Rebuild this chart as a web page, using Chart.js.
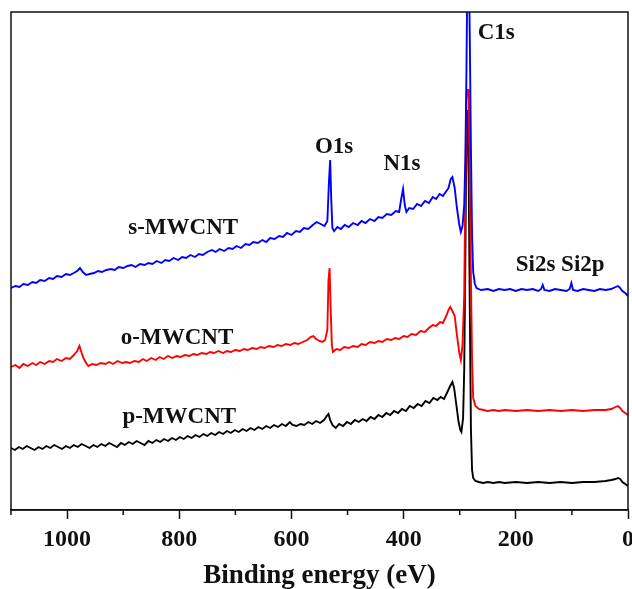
<!DOCTYPE html>
<html>
<head>
<meta charset="utf-8">
<title>XPS survey spectra</title>
<script src="https://cdn.jsdelivr.net/npm/chart.js@4.4.1/dist/chart.umd.min.js"></script>
<style>
    html, body { margin: 0; padding: 0; background: #fff; }
    #wrap { width: 632px; height: 589px; }
</style>
</head>
<body>
<div id="wrap"><canvas id="xpsChart" width="632" height="589"></canvas></div>
<script>
// Binding energy (eV) and intensity (a.u., offset for stacking)
const sEnergy = [1100, 1092, 1085, 1078, 1070, 1062, 1055, 1048, 1040, 1032, 1025, 1018, 1010, 1002, 995, 988, 982, 977, 972, 966,
    960, 952, 945, 938, 930, 922, 915, 908, 900, 892, 885, 878, 870, 862, 855, 848, 840, 832, 825, 818,
    810, 802, 795, 788, 780, 772, 765, 758, 750, 742, 735, 728, 720, 712, 705, 698, 690, 682, 675, 668,
    660, 652, 645, 638, 630, 622, 615, 608, 600, 592, 585, 578, 570, 562, 555, 548, 541, 536, 533, 531,
    529, 527, 524, 518, 512, 505, 498, 490, 482, 475, 468, 460, 452, 445, 438, 430, 422, 414, 408, 404,
    401, 398, 395, 390, 383, 376, 369, 362, 355, 348, 342, 336, 330, 325, 320, 316, 313, 309, 305, 301,
    298, 295, 292, 290, 288, 286, 284, 282, 280, 278, 276, 273, 270, 262, 250, 240, 230, 220, 210, 200,
    190, 180, 170, 160, 155, 152, 149, 140, 130, 120, 110, 104, 101, 98, 90, 80, 70, 60, 50, 40,
    30, 22, 18, 14, 10, 5, 0];
const sIntensity = [222, 224, 223, 226, 225, 228, 227, 230, 229, 232, 231, 234, 233, 236, 235, 237, 239, 242, 238, 235,
    236, 237, 239, 238, 240, 241, 240, 243, 242, 244, 245, 243, 246, 245, 247, 246, 249, 247, 250, 249,
    252, 250, 253, 252, 255, 253, 256, 255, 258, 260, 258, 261, 259, 262, 261, 264, 262, 266, 265, 268,
    267, 270, 268, 272, 271, 274, 273, 277, 275, 279, 278, 282, 281, 285, 288, 286, 284, 289, 330, 350,
    310, 282, 279, 283, 281, 285, 283, 287, 285, 289, 287, 291, 289, 293, 292, 296, 295, 299, 298, 312,
    321, 305, 298, 302, 301, 306, 304, 309, 307, 313, 311, 316, 314, 318, 322, 331, 333, 322, 302, 286,
    278, 284, 305, 350, 440, 560, 560, 470, 360, 275, 238, 226, 222, 220, 221, 219, 221, 220, 221, 219,
    221, 220, 221, 219, 221, 225, 220, 219, 221, 220, 219, 221, 227, 220, 219, 221, 220, 219, 221, 220,
    221, 223, 224, 222, 219, 217, 214];

const oEnergy = [1100, 1092, 1085, 1078, 1070, 1062, 1055, 1048, 1040, 1032, 1025, 1018, 1010, 1002, 995, 988, 982, 978, 974, 970,
    966, 962, 955, 948, 940, 932, 925, 918, 910, 902, 895, 888, 880, 872, 865, 858, 850, 842, 835, 828,
    820, 812, 805, 798, 790, 782, 775, 768, 760, 752, 745, 738, 730, 722, 715, 708, 700, 692, 685, 678,
    670, 662, 655, 648, 640, 632, 625, 618, 610, 602, 595, 588, 580, 572, 566, 561, 556, 550, 545, 540,
    536, 534, 532, 530, 528, 526, 520, 513, 506, 498, 490, 482, 475, 468, 460, 452, 445, 438, 430, 422,
    415, 408, 400, 393, 386, 378, 370, 362, 355, 348, 342, 335, 330, 324, 320, 317, 313, 309, 305, 301,
    298, 295, 292, 290, 288, 286, 284, 282, 280, 278, 276, 272, 266, 258, 250, 240, 230, 220, 200, 180,
    160, 140, 120, 100, 80, 60, 40, 30, 22, 18, 14, 10, 5, 0];
const oIntensity = [143, 145, 142, 146, 144, 147, 145, 148, 146, 149, 148, 151, 149, 152, 151, 155, 159, 164, 157, 151,
    147, 144, 146, 145, 147, 146, 148, 146, 149, 147, 148, 147, 149, 148, 151, 149, 152, 150, 153, 151,
    154, 152, 154, 153, 155, 154, 156, 155, 157, 156, 158, 157, 159, 157, 159, 158, 160, 159, 161, 160,
    162, 161, 163, 162, 164, 163, 165, 164, 166, 165, 167, 166, 168, 170, 173, 174, 171, 169, 168, 170,
    180, 230, 242, 200, 165, 158, 161, 160, 163, 162, 164, 163, 166, 165, 168, 167, 169, 168, 171, 170,
    172, 171, 174, 173, 176, 175, 179, 178, 182, 185, 184, 188, 187, 194, 200, 203, 199, 194, 175, 158,
    150, 165, 215, 320, 410, 420, 420, 330, 230, 150, 112, 104, 101, 100, 99, 100, 99, 100, 99, 100,
    99, 100, 99, 100, 99, 100, 100, 101, 103, 104, 102, 99, 97, 95];

const pEnergy = [1100, 1093, 1086, 1079, 1072, 1065, 1058, 1051, 1044, 1037, 1030, 1023, 1016, 1009, 1002, 995, 988, 981, 974, 967,
    960, 953, 946, 939, 932, 925, 918, 911, 904, 897, 890, 883, 876, 869, 862, 855, 848, 841, 834, 827,
    820, 813, 806, 799, 792, 785, 778, 771, 764, 757, 750, 743, 736, 729, 722, 715, 708, 701, 694, 687,
    680, 673, 666, 659, 652, 645, 638, 631, 624, 617, 610, 603, 598, 591, 584, 577, 570, 563, 556, 549,
    542, 537, 534, 531, 527, 521, 515, 508, 501, 494, 487, 480, 473, 466, 459, 452, 445, 438, 431, 424,
    417, 410, 403, 396, 389, 382, 375, 368, 361, 354, 347, 340, 334, 328, 322, 317, 313, 310, 306, 302,
    299, 297, 294, 292, 290, 288, 286, 284, 282, 280, 278, 276, 272, 266, 258, 250, 240, 230, 220, 200,
    180, 160, 140, 120, 100, 80, 60, 40, 30, 22, 18, 14, 10, 5, 0];
const pIntensity = [62, 60, 63, 61, 64, 62, 60, 63, 61, 64, 62, 65, 63, 61, 64, 62, 65, 63, 66, 64,
    62, 65, 63, 66, 64, 67, 65, 63, 67, 65, 68, 66, 69, 67, 65, 69, 67, 70, 68, 71,
    69, 72, 70, 73, 71, 74, 72, 75, 73, 76, 74, 77, 75, 78, 76, 79, 77, 80, 78, 81,
    79, 82, 80, 83, 81, 84, 82, 85, 83, 86, 84, 88, 85, 84, 86, 85, 88, 86, 89, 87,
    90, 94, 96, 90, 85, 82, 86, 84, 88, 86, 90, 88, 91, 89, 93, 91, 95, 93, 97, 95,
    99, 97, 101, 99, 104, 102, 106, 104, 109, 107, 112, 110, 113, 111, 118, 124, 128, 122, 105, 88,
    80, 78, 92, 140, 250, 380, 400, 330, 200, 80, 40, 32, 29, 28, 27, 28, 27, 28, 27, 28,
    27, 28, 27, 28, 27, 28, 28, 29, 30, 31, 32, 31, 28, 26, 24];

const seriesNames = ['s-MWCNT', 'o-MWCNT', 'p-MWCNT'];
const seriesColors = ['#0000ff', '#ff0000', '#000000'];
const xTickValues = [1000, 800, 600, 400, 200, 0];
const xMinorTicks = [1100, 900, 700, 500, 300, 100];

// text labels placed in data coordinates [energy, intensity]
const peakLabels = [
    { text: 'C1s', at: [235, 477] },
    { text: 'O1s', at: [524, 363] },
    { text: 'N1s', at: [403, 346] },
    { text: 'Si2s Si2p', at: [121, 245] },
    { text: 's-MWCNT', at: [793, 282] },
    { text: 'o-MWCNT', at: [804, 172] },
    { text: 'p-MWCNT', at: [800, 93] }
];

function toPoints(xs, ys) {
    return xs.map(function(x, i) { return { x: x, y: ys[i] }; });
}

document.addEventListener('DOMContentLoaded', function() {
    const serif = '"Liberation Serif", "Times New Roman", serif';

    // frame box, minor ticks and the peak / sample labels
    const decorations = {
        id: 'decorations',
        afterDatasetsDraw(chart) {
            const ctx = chart.ctx;
            const area = chart.chartArea;
            const xs = chart.scales.x;
            const ys = chart.scales.y;
            ctx.save();
            ctx.strokeStyle = '#111';
            ctx.lineWidth = 1.5;
            ctx.strokeRect(area.left, area.top, area.right - area.left, area.bottom - area.top);

            ctx.beginPath();
            xMinorTicks.forEach(function(v) {
                const px = xs.getPixelForValue(v);
                ctx.moveTo(px, area.bottom);
                ctx.lineTo(px, area.bottom + 5);
            });
            ctx.stroke();

            ctx.fillStyle = '#111';
            ctx.font = 'bold 23px ' + serif;
            ctx.textAlign = 'center';
            ctx.textBaseline = 'middle';
            peakLabels.forEach(function(l) {
                ctx.fillText(l.text, xs.getPixelForValue(l.at[0]), ys.getPixelForValue(l.at[1]));
            });
            ctx.restore();
        }
    };

    const ctx = document.getElementById('xpsChart').getContext('2d');
    new Chart(ctx, {
        type: 'line',
        data: {
            datasets: [
                { label: seriesNames[0], data: toPoints(sEnergy, sIntensity), borderColor: seriesColors[0] },
                { label: seriesNames[1], data: toPoints(oEnergy, oIntensity), borderColor: seriesColors[1] },
                { label: seriesNames[2], data: toPoints(pEnergy, pIntensity), borderColor: seriesColors[2] }
            ]
        },
        options: {
            responsive: false,
            animation: false,
            layout: { padding: { left: 11, right: 4, top: 12, bottom: 0 } },
            elements: {
                point: { radius: 0 },
                line: { borderWidth: 1.9, tension: 0 }
            },
            plugins: {
                legend: { display: false },
                tooltip: { enabled: false }
            },
            scales: {
                x: {
                    type: 'linear',
                    reverse: true,
                    min: 0,
                    max: 1100,
                    grid: {
                        drawOnChartArea: false,
                        drawTicks: true,
                        tickLength: 9,
                        tickWidth: 1.5,
                        tickColor: '#111'
                    },
                    border: { display: true, color: '#111', width: 1.5 },
                    afterBuildTicks: function(scale) {
                        scale.ticks = xTickValues.map(function(v) { return { value: v }; });
                    },
                    afterFit: function(scale) {
                        scale.height = 79;
                        scale.paddingLeft = 0;
                        scale.paddingRight = 0;
                    },
                    ticks: {
                        autoSkip: false,
                        maxRotation: 0,
                        padding: 6,
                        color: '#111',
                        font: { family: serif, size: 24, weight: 'bold' },
                        callback: function(value) { return String(value); }
                    },
                    title: {
                        display: true,
                        text: 'Binding energy (eV)',
                        color: '#111',
                        padding: { top: 0, bottom: 0 },
                        font: { family: serif, size: 27, weight: 'bold', lineHeight: 0.95 }
                    }
                },
                y: {
                    display: false,
                    min: 0,
                    max: 498
                }
            }
        },
        plugins: [decorations]
    });
});
</script>
</body>
</html>
